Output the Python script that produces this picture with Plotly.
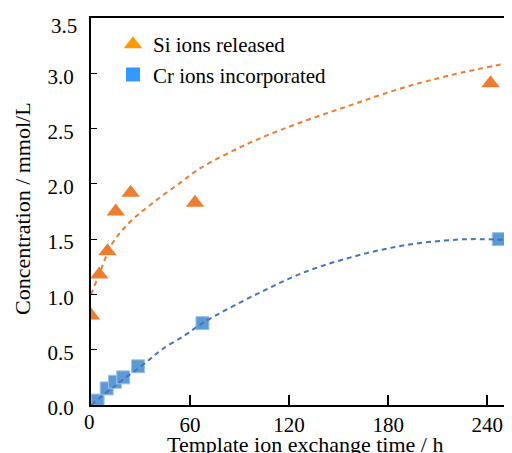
import plotly.graph_objects as go

# Measured data
si_time = [0, 5, 10, 15, 24, 63, 242]
si_conc = [0.81, 1.18, 1.39, 1.75, 1.92, 1.83, 2.91]

cr_time = [4, 9.5, 14.5, 19.5, 28.5, 67.5, 247]
cr_conc = [0.04, 0.15, 0.21, 0.25, 0.35, 0.74, 1.50]

# Trend lines
si_fit_time = [0, 4.4, 12.5, 22.6, 36.7, 55, 66, 96, 126, 157, 187, 217, 255]
si_fit_conc = [1.0, 1.16, 1.45, 1.64, 1.82, 2.02, 2.14, 2.37, 2.55, 2.71, 2.86, 2.98, 3.10]

cr_fit_time = [0, 15, 33.7, 42.7, 56.8, 68, 100, 130, 161, 191, 221, 236, 255]
cr_fit_conc = [0.0, 0.18, 0.39, 0.50, 0.63, 0.745, 1.00, 1.205, 1.35, 1.447, 1.495, 1.50, 1.49]

x_ticks = [60, 120, 180, 240]
y_ticks = [0.0, 0.5, 1.0, 1.5, 2.0, 2.5, 3.0, 3.5]

FONT = "Liberation Serif"
ORANGE = "#ED7D31"
BLUE = "#5B9BD5"

# page body has an 8px margin: work in figure coords = screen - 8
OFF = 8
W, H = 512 - OFF, 453 - OFF
L, R, T, B = 91 - OFF, 0, 18 - OFF, 48
pw, ph = W - L - R, H - T - B


def px(sx):
    return (sx - OFF - L) / pw


def py(sy):
    return (H - B - (sy - OFF)) / ph


fig = go.Figure()

fig.add_trace(go.Scatter(x=si_time, y=si_conc, mode="markers", showlegend=False,
                         marker=dict(symbol="triangle-up", size=16, color=ORANGE,
                                     line=dict(width=0))))
fig.add_trace(go.Scatter(x=cr_time, y=cr_conc, mode="markers", showlegend=False,
                         marker=dict(symbol="square", size=13, color=BLUE,
                                     line=dict(width=1, color="#9DC3E6"))))
fig.add_trace(go.Scatter(x=si_fit_time, y=si_fit_conc, mode="lines", showlegend=False,
                         line=dict(color=ORANGE, width=2, dash="5px,4px", shape="spline")))
fig.add_trace(go.Scatter(x=cr_fit_time, y=cr_fit_conc, mode="lines", showlegend=False,
                         line=dict(color="#4472C4", width=2, dash="5px,4px", shape="spline")))

# legend entries
fig.add_trace(go.Scatter(x=[None], y=[None], mode="markers", name="Si ions released",
                         marker=dict(symbol="triangle-up", size=16, color="#FF9900")))
fig.add_trace(go.Scatter(x=[None], y=[None], mode="markers", name="Cr ions incorporated",
                         marker=dict(symbol="square", size=14, color="#3399FF")))

y_text = [f"{v:.1f}" for v in y_ticks]
top_label = y_text[-1]
y_text[-1] = ""  # top label drawn separately (sits lower in the reference)

fig.update_layout(
    width=W, height=H,
    margin=dict(l=L, r=R, t=T, b=B),
    paper_bgcolor="white", plot_bgcolor="white",
    font=dict(family=FONT, size=21, color="black"),
    legend=dict(x=px(113), y=py(24), xanchor="left", yanchor="top",
                font=dict(family=FONT, size=21, color="black"),
                bgcolor="rgba(0,0,0,0)", tracegroupgap=0, itemsizing="trace"),
    xaxis=dict(range=[0, 255], tickvals=x_ticks, ticktext=[str(v) for v in x_ticks],
               showline=True, linecolor="black", linewidth=2, mirror=True,
               ticks="inside", ticklen=10, tickwidth=2, tickcolor="black",
               showgrid=False, zeroline=False, automargin=False,
               ticklabeloverflow="allow",
               tickfont=dict(family=FONT, size=21)),
    yaxis=dict(range=[0, 3.5], tickvals=y_ticks, ticktext=y_text,
               showline=True, linecolor="black", linewidth=2, mirror=False,
               ticks="inside", ticklen=6, tickwidth=1, tickcolor="black",
               showgrid=False, zeroline=False, automargin=False,
               ticklabeloverflow="allow",
               tickfont=dict(family=FONT, size=21),
               ticklabelstandoff=11, ticklabelshift=3),
)

# top y tick label
fig.add_annotation(x=0, y=y_ticks[-1], xref="paper", yref="y", text=top_label,
                   showarrow=False, xanchor="right", yanchor="middle",
                   xshift=-12, yshift=-8, font=dict(family=FONT, size=21))

# "0" tick label at origin
fig.add_annotation(x=0, y=0, xref="x", yref="paper", text="0", showarrow=False,
                   yanchor="top", yshift=-3, xshift=-2, font=dict(family=FONT, size=21))

# axis titles
fig.add_annotation(x=px(305), y=py(444), xref="paper", yref="paper",
                   text="Template ion exchange time / h",
                   showarrow=False, xanchor="center", yanchor="middle",
                   font=dict(family=FONT, size=22))
fig.add_annotation(x=px(22), y=py(209), xref="paper", yref="paper",
                   text="Concentration / mmol/L", showarrow=False,
                   xanchor="center", yanchor="middle", textangle=-90,
                   font=dict(family=FONT, size=22))

fig.write_html("out.html")
